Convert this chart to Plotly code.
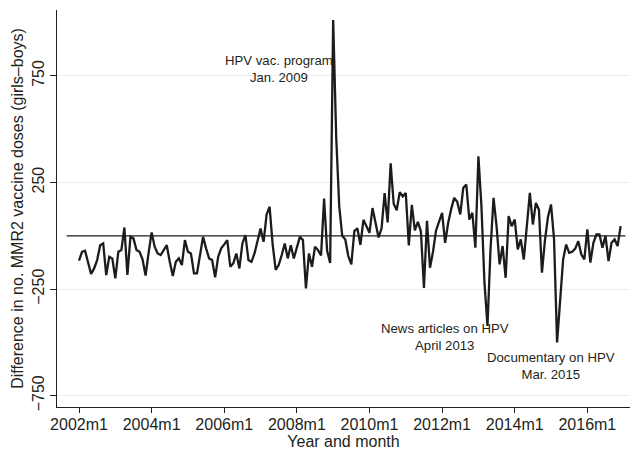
import plotly.graph_objects as go

# Monthly difference in MMR2 doses (girls - boys), 2002m1 .. 2016m12
diff_2002_2006 = [
    -117, -75, -70, -122, -179, -153, -114, -44, -36, -184, -98, -106,
    -200, -75, -67, 39, -184, -5, -12, -67, -75, -110, -187, -80,
    16, -51, -83, -90, -70, -44, -122, -189, -122, -106, -137, -20,
    -75, -83, -176, -176, -90, -5, -59, -106, -114, -195, -98, -59,
    -40, -20, -145, -129, -83, -153, -36, 3, -114, -122, -83, -20,
]
diff_2007_2011 = [
    34, -28, 100, 136, -40, -160, -137, -90, -36, -106, -44, -106,
    -55, -5, -20, -247, -83, -145, -51, -67, -92, 175, -70, -128,
    1012, 466, 139, 0, -17, -95, -134, 22, 35, -42, 75, 40,
    14, 130, 55, -8, 35, 200, 63, 340, 150, 120, 205, 185,
]
diff_2012_2016 = [
    200, -45, 145, 25, 65, 20, -245, 70, -150, -75, 25, 70,
    108, -33, 60, 125, 178, 160, 100, 225, 240, 76, 108, -56,
    373, 139, -220, -423, -64, 178, 45, -134, -48, -197, 92, 45,
    76, -64, -17, -111, 45, 201, 53, 154, 123, -173, -20, 90,
    147, -17, -500, -298, -111, -41, -80, -75, -60, -25, -87, -111,
    30, -126, -33, 6, 6, -56, 0, -119, -33, -17, -48, 45,
]
values = diff_2002_2006 + diff_2007_2011 + diff_2012_2016
month_index = list(range(len(values)))

tick_months = [0, 24, 48, 72, 96, 120, 144, 168]
tick_labels = ["2002m1", "2004m1", "2006m1", "2008m1", "2010m1", "2012m1", "2014m1", "2016m1"]
y_ticks = [-750, -250, 250, 750]
y_tick_labels = ["\u2212750", "\u2212250", "250", "750"]

events = [
    ("HPV vac. program<br>Jan. 2009", 66.1, 784),
    ("News articles on HPV<br>April 2013", 121.1, -477),
    ("Documentary on HPV<br>Mar. 2015", 156.1, -609),
]

FONT = "Liberation Sans, Arial, Helvetica, sans-serif"

fig = go.Figure()
fig.add_trace(go.Scatter(
    x=month_index, y=values, mode="lines",
    line=dict(color="#1e1b1c", width=2.3),
    hoverinfo="skip", showlegend=False,
))

fig.add_shape(type="line", xref="x", yref="y",
              x0=-4.1, x1=180.6, y0=0, y1=0,
              line=dict(color="#1e1b1c", width=1.3), layer="above")

for text, xv, yv in events:
    fig.add_annotation(x=xv, y=yv, xref="x", yref="y", text=text,
                       showarrow=False, xanchor="center", yanchor="middle",
                       align="center",
                       font=dict(family=FONT, size=13.2, color="#231f20"))

fig.update_layout(
    width=630, height=450,
    margin=dict(l=57, r=0, t=10, b=43, autoexpand=False),
    paper_bgcolor="white", plot_bgcolor="white",
    font=dict(family=FONT, size=16, color="#231f20"),
    showlegend=False,
)
fig.update_xaxes(
    range=[-7.27, 182.1],
    tickmode="array", tickvals=tick_months, ticktext=tick_labels,
    ticks="outside", ticklen=5, tickwidth=1.2, tickcolor="#231f20",
    showline=True, linecolor="#231f20", linewidth=1.2,
    showgrid=False, zeroline=False,
    tickfont=dict(size=16),
    ticklabelstandoff=-2,
    title=dict(text="Year and month", font=dict(size=16), standoff=2),
    automargin=False,
)
fig.update_yaxes(
    range=[-803, 1059],
    tickmode="array", tickvals=y_ticks, ticktext=y_tick_labels,
    tickangle=-90,
    ticks="outside", ticklen=6, tickwidth=1.2, tickcolor="#231f20",
    showline=True, linecolor="#231f20", linewidth=1.2,
    showgrid=True, gridcolor="#ececec", gridwidth=1,
    zeroline=False,
    tickfont=dict(size=16),
    title=dict(text="Difference in no. MMR2 vaccine doses (girls\u2013boys)",
               font=dict(size=16), standoff=1),
    automargin=False,
)

fig.write_html("out.html")
